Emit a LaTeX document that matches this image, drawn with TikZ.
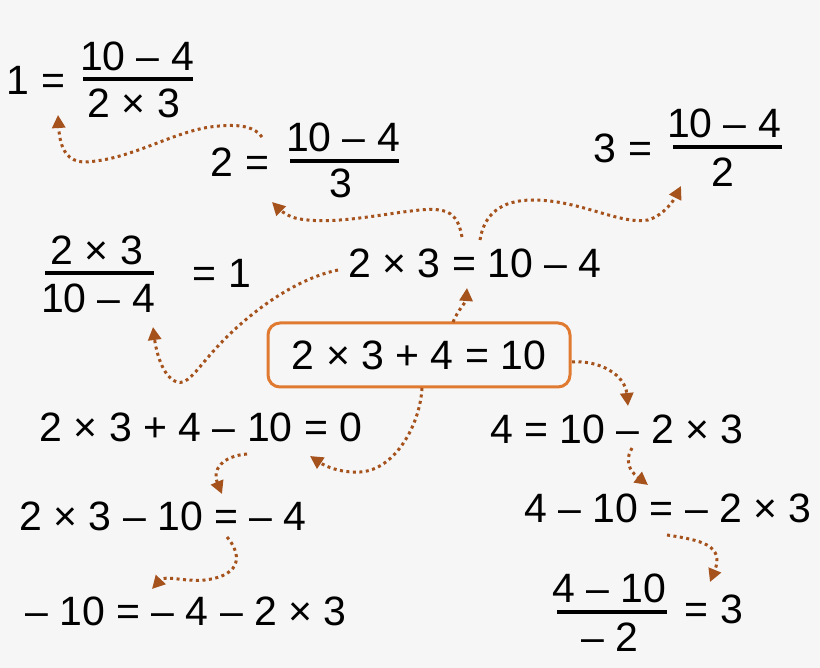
\documentclass[tikz,border=0pt]{standalone}
\usepackage{fontspec}
\setmainfont{Liberation Sans}
\usetikzlibrary{arrows.meta,calc}
\definecolor{bg}{RGB}{246,246,246}
\definecolor{arr}{RGB}{165,82,28}
\definecolor{boxc}{RGB}{224,122,48}
\begin{document}
\begin{tikzpicture}[x=1pt,y=-1pt,
  eq/.style={inner sep=0pt,anchor=base,font=\fontsize{41}{49}\selectfont},
  fbar/.style={line width=3.5pt},
  conn/.style={draw=arr,line width=3pt,dash pattern=on 3pt off 3.5pt,
    -{Triangle[length=13pt,width=13pt,fill=arr]}}]
\useasboundingbox (0,0) rectangle (820,668);
\fill[bg] (0,0) rectangle (820,668);

% 1 = (10-4)/(2x3)
\node[eq] (l1) at (36,95) {1 =};
\node[eq] (n1) at (137,71) {10 – 4};
\node[eq] (d1) at (134,118) {2 × 3};
\draw[fbar] ($(n1.base)+(-54,8)$) -- ($(n1.base)+(56,8)$);

% 2 = (10-4)/3
\node[eq] (l2) at (240,177) {2 =};
\node[eq] (n2) at (343,152) {10 – 4};
\node[eq] (d2) at (341,198) {3};
\draw[fbar] ($(n2.base)+(-53,9)$) -- ($(n2.base)+(56,9)$);

% 3 = (10-4)/2
\node[eq] (l3) at (623,163) {3 =};
\node[eq] (n3) at (724,138) {10 – 4};
\node[eq] (d3) at (723,187) {2};
\draw[fbar] ($(n3.base)+(-51,9)$) -- ($(n3.base)+(58,9)$);

% (2x3)/(10-4) = 1
\node[eq] (n4) at (97,265) {2 × 3};
\node[eq] (d4) at (98,313) {10 – 4};
\node[eq] (r4) at (222,288) {= 1};
\draw[fbar] ($(n4.base)+(-52,8)$) -- ($(n4.base)+(57,8)$);

% centre equations
\node[eq] (e5) at (475,278) {2 × 3 = 10 – 4};
\node[draw=boxc,line width=3pt,rounded corners=12pt,minimum width=302pt,
  minimum height=64pt,inner sep=0pt,font=\fontsize{41}{49}\selectfont]
  (box) at (419,355) {2 × 3 + 4 = 10};
\node[eq] (e7) at (201,442) {2 × 3 + 4 – 10 = 0};
\node[eq] (e8) at (617,443) {4 = 10 – 2 × 3};
\node[eq] (e9) at (163,530) {2 × 3 – 10 = – 4};
\node[eq] (e10) at (668,522) {4 – 10 = – 2 × 3};
\node[eq] (e11) at (186,625) {– 10 = – 4 – 2 × 3};

% (4-10)/(-2) = 3
\node[eq] (n12) at (609,602) {4 – 10};
\node[eq] (d12) at (610,651) {– 2};
\node[eq] (r12) at (714,623) {= 3};
\draw[fbar] ($(n12.base)+(-52,10)$) -- ($(n12.base)+(58,10)$);

% connectors
% A box -> e5
\draw[conn] ($(box.center)+(34,-33)$) .. controls +(5,-12) and +(-1,14) .. ($(e5.base)+(-8,10)$);
% B e5 -> frac 2
\draw[conn] ($(e5.base)+(-13,-41)$) .. controls (458,215) and (450,207) .. (420,210)
  .. controls (380,214) and (330,226) .. (295,218)
  .. controls (285,215) and (278,208) .. ($(l2.base)+(32,25)$);
% C e5 -> frac 3
\draw[conn] ($(e5.base)+(5,-38)$) .. controls (484,215) and (500,200) .. (533,200)
  .. controls (580,200) and (620,225) .. (648,220)
  .. controls (665,215) and (675,198) .. ($(d3.base)+(-42,-1)$);
% D frac 2 -> frac 1
\draw[conn] ($(n2.base)+(-81,-15)$) .. controls (255,127) and (240,123) .. (210,127)
  .. controls (170,133) and (130,160) .. (85,162)
  .. controls (68,162) and (60,150) .. ($(l1.base)+(22,20)$);
% E e5 -> frac 4
\draw[conn] ($(e5.base)+(-137,-8)$) .. controls (290,280) and (240,320) .. (210,355)
  .. controls (195,372) and (187,385) .. (177,382)
  .. controls (162,377) and (156,350) .. ($(d4.base)+(55,14)$);
% F box -> e7
\draw[conn] ($(box.center)+(3,33)$) .. controls (420,425) and (395,470) .. (360,472)
  .. controls (340,473) and (325,466) .. ($(e7.base)+(109,14)$);
% G e7 -> e9
\draw[conn] ($(e7.base)+(46,12)$) .. controls (222,456) and (212,470) .. ($(e9.base)+(59,-36)$);
% H e9 -> e11
\draw[conn] ($(e9.base)+(64,7)$) .. controls (240,552) and (245,575) .. (205,580)
  .. controls (185,582) and (165,575) .. ($(e11.base)+(-34,-36)$);
% I box -> e8
\draw[conn] ($(box.center)+(153,7)$) .. controls (600,360) and (625,375) .. ($(e8.base)+(11,-37)$);
% J e8 -> e10
\draw[conn] ($(e8.base)+(15,5)$) .. controls (622,465) and (635,475) .. ($(e10.base)+(-20,-37)$);
% K e10 -> frac 12
\draw[conn] ($(e10.base)+(-1,13)$) .. controls (700,540) and (725,545) .. ($(r12.base)+(-4,-41)$);
\end{tikzpicture}
\end{document}
